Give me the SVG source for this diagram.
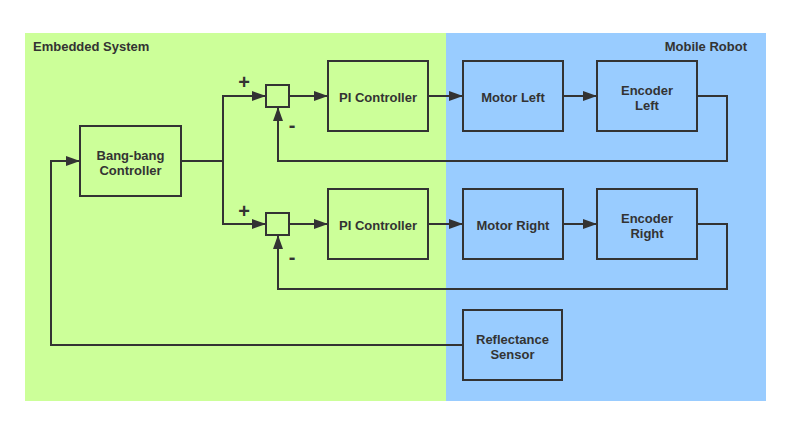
<svg xmlns="http://www.w3.org/2000/svg" width="791" height="427" viewBox="0 0 791 427">
<defs>
<style>
.box{fill:none;stroke:#333;stroke-width:2}
.ln{fill:none;stroke:#333;stroke-width:2}
.t{font-family:"Liberation Sans",Arial,sans-serif;font-weight:bold;font-size:13px;fill:#333;text-anchor:middle}
.sg{font-family:"Liberation Sans",Arial,sans-serif;font-weight:bold;font-size:20px;fill:#333;text-anchor:middle}
</style>
<marker id="ah" markerUnits="userSpaceOnUse" markerWidth="14" markerHeight="10" refX="14" refY="5" orient="auto">
<path d="M0,0 L14,5 L0,10 z" fill="#333"/>
</marker>
</defs>
<rect x="0" y="0" width="791" height="427" fill="#fff"/>
<g id="panels">
<rect x="25" y="33" width="421" height="368" fill="#CCFF99"/>
<rect x="446" y="33" width="320" height="368" fill="#99CCFF"/>
<text class="t" x="33" y="51" style="text-anchor:start">Embedded System</text>
<text class="t" x="747" y="51" style="text-anchor:end">Mobile Robot</text>
</g>
<g id="connectors">
<path class="ln" d="M463,345 H51 V161 H80" marker-end="url(#ah)"/>
<path class="ln" d="M181,161 H223"/>
<path class="ln" d="M223,161 V96 H266" marker-end="url(#ah)"/>
<path class="ln" d="M223,161 V224 H266" marker-end="url(#ah)"/>
<path class="ln" d="M289,96 H328" marker-end="url(#ah)"/>
<path class="ln" d="M428,96 H463" marker-end="url(#ah)"/>
<path class="ln" d="M563,96 H597" marker-end="url(#ah)"/>
<path class="ln" d="M697,96 H727 V161 H278 V107" marker-end="url(#ah)"/>
<path class="ln" d="M289,224 H328" marker-end="url(#ah)"/>
<path class="ln" d="M428,224 H463" marker-end="url(#ah)"/>
<path class="ln" d="M563,224 H597" marker-end="url(#ah)"/>
<path class="ln" d="M697,224 H727 V289 H278 V235" marker-end="url(#ah)"/>
<text class="sg" x="244" y="89">+</text>
<text class="sg" x="292" y="132">-</text>
<text class="sg" x="244" y="218">+</text>
<text class="sg" x="292" y="264">-</text>
</g>
<g id="bangbang">
<rect class="box" x="80" y="126" width="101" height="70"/>
<text class="t" x="130.5" y="160">Bang-bang</text>
<text class="t" x="130.5" y="175">Controller</text>
</g>
<g id="sum1"><rect class="box" x="266" y="85" width="23" height="22"/></g>
<g id="sum2"><rect class="box" x="266" y="213" width="23" height="22"/></g>
<g id="pi1">
<rect class="box" x="328" y="61" width="100" height="70"/>
<text class="t" x="378" y="102">PI Controller</text>
</g>
<g id="pi2">
<rect class="box" x="328" y="189" width="100" height="70"/>
<text class="t" x="378" y="230">PI Controller</text>
</g>
<g id="motorLeft">
<rect class="box" x="463" y="61" width="100" height="70"/>
<text class="t" x="513" y="102">Motor Left</text>
</g>
<g id="encoderLeft">
<rect class="box" x="597" y="61" width="100" height="70"/>
<text class="t" x="647" y="95">Encoder</text>
<text class="t" x="647" y="110">Left</text>
</g>
<g id="motorRight">
<rect class="box" x="463" y="189" width="100" height="70"/>
<text class="t" x="513" y="230">Motor Right</text>
</g>
<g id="encoderRight">
<rect class="box" x="597" y="189" width="100" height="70"/>
<text class="t" x="647" y="223">Encoder</text>
<text class="t" x="647" y="238">Right</text>
</g>
<g id="reflectance">
<rect class="box" x="463" y="310" width="99" height="70"/>
<text class="t" x="512.5" y="344">Reflectance</text>
<text class="t" x="512.5" y="359">Sensor</text>
</g>
</svg>
